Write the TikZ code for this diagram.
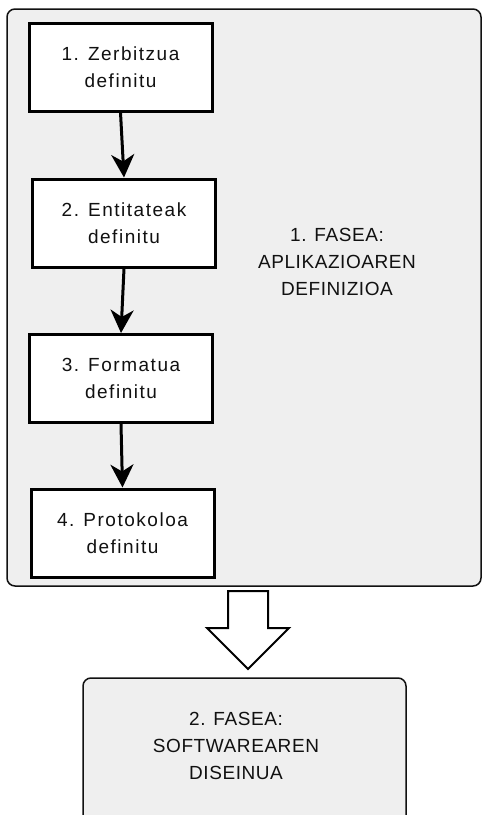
\documentclass[tikz,border=0pt]{standalone}
\usepackage{fontspec}
\setmainfont{Liberation Sans}
\newfontfamily\stepfont[LetterSpace=8]{Liberation Sans}
\newfontfamily\phasefont[LetterSpace=3]{Liberation Sans}
\usetikzlibrary{arrows.meta}
\definecolor{panelgray}{HTML}{EFEFEF}
\definecolor{inkgray}{HTML}{111111}
\begin{document}
\begin{tikzpicture}[x=1pt,y=-1pt,
  phase/.style={draw=inkgray, line width=1.5pt, fill=panelgray, rounded corners=8pt, inner sep=0pt},
  stepbox/.style={draw=black, line width=3pt, fill=white, minimum width=183pt, minimum height=88pt,
    align=center, inner sep=0pt, font=\stepfont\fontsize{19}{26.5}\selectfont, text=inkgray},
  phasetext/.style={align=center, inner sep=0pt, font=\phasefont\fontsize{19}{27}\selectfont, text=inkgray},
  flow/.style={line width=3pt, -{Stealth[length=23pt, width=23pt, inset=7pt]}}]
\useasboundingbox (0,0) rectangle (482,815);
\clip (0,0) rectangle (482,815);
\fill[white] (0,0) rectangle (482,815);

% phase 1 panel with its steps
\node[phase, minimum width=474pt, minimum height=577pt] (fase1) at (244,297.5) {};
\node[phasetext] (fase1lbl) at (337,261.5) {1. FASEA:\\APLIKAZIOAREN\\DEFINIZIOA};

\node[stepbox] (s1) at (120.5,67) {1. Zerbitzua\\definitu};
\node[stepbox] (s2) at (124,223) {2. Entitateak\\definitu};
\node[stepbox] (s3) at (121,378.5) {3. Formatua\\definitu};
\node[stepbox] (s4) at (122.5,533) {4. Protokoloa\\definitu};

\draw[flow] (s1.south) -- (s2.north);
\draw[flow] (s2.south) -- (s3.north);
\draw[flow] (s3.south) -- (s4.north);

% phase 2 panel, running off the lower edge
\node[phase, minimum width=323pt, minimum height=170pt] (fase2) at (244.5,763) {};
\node[phasetext] (fase2lbl) at (236,745.5) {2. FASEA:\\SOFTWAREAREN\\DISEINUA};

% hollow block arrow between the phases
\draw[line width=2pt, fill=white, line join=miter]
  (228,591) -- (268,591) -- (268,628) -- (289,628) -- (248,669) -- (207,628) -- (228,628) -- cycle;
\end{tikzpicture}
\end{document}
